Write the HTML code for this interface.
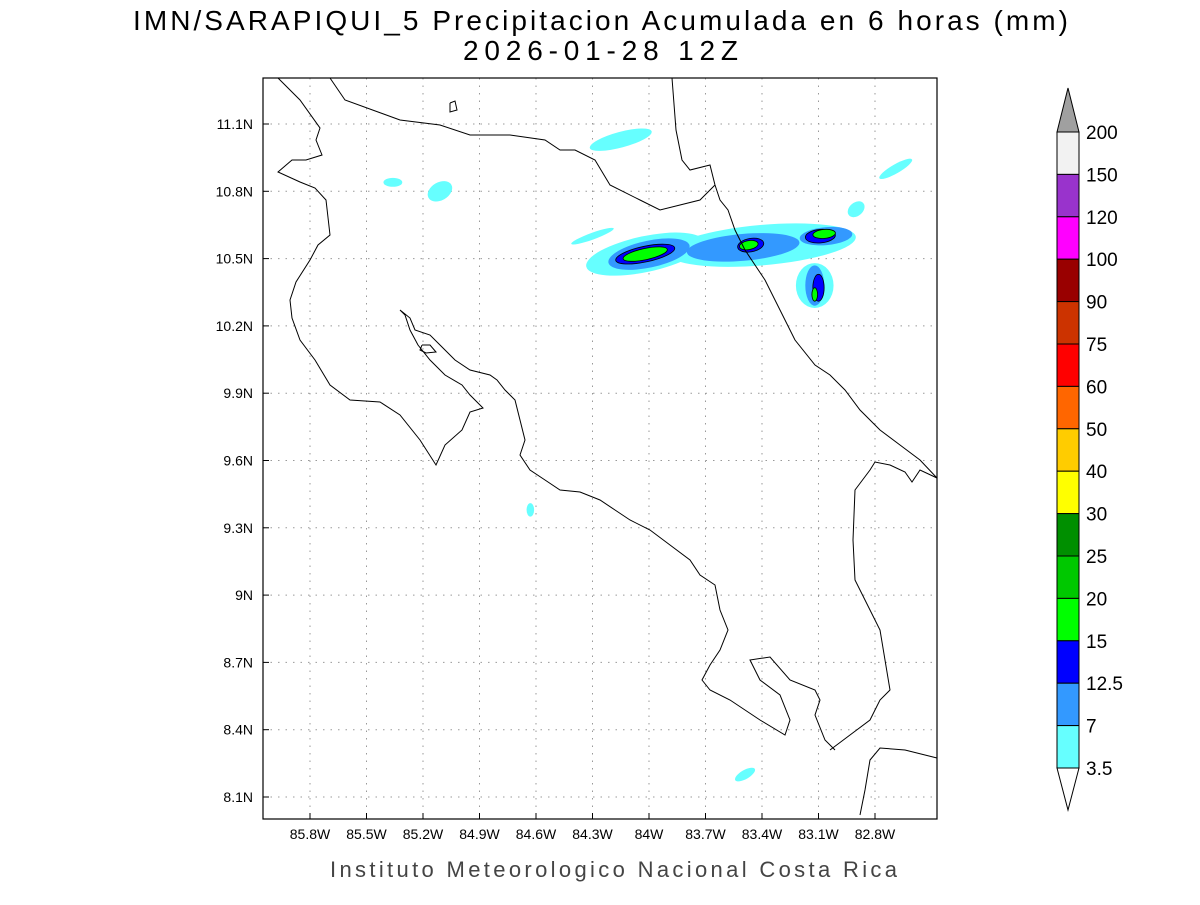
<!DOCTYPE html>
<html><head><meta charset="utf-8"><style>
body{margin:0;background:#fff;}
svg text{font-family:"Liberation Sans",sans-serif;}
</style></head><body>
<svg id="c" width="1200" height="900" xmlns="http://www.w3.org/2000/svg">
<text x="133" y="30" textLength="935" lengthAdjust="spacing" font-size="28">IMN/SARAPIQUI_5 Precipitacion Acumulada en 6 horas (mm)</text>
<text x="463" y="60" textLength="275" lengthAdjust="spacing" font-size="28">2026-01-28 12Z</text>
<text x="330" y="877" textLength="567" lengthAdjust="spacing" font-size="22" fill="#444">Instituto Meteorologico Nacional Costa Rica</text>
<g id="grid"></g><g id="rain"></g><g id="coast"></g><g id="axes"></g><g id="cbar"></g>
</svg>
<script>
const lonTicks=[-85.8,-85.5,-85.2,-84.9,-84.6,-84.3,-84.0,-83.7,-83.4,-83.1,-82.8];
const latTicks=[11.1,10.8,10.5,10.2,9.9,9.6,9.3,9.0,8.7,8.4,8.1];
const latLabels=["11.1N","10.8N","10.5N","10.2N","9.9N","9.6N","9.3N","9N","8.7N","8.4N","8.1N"];
const lonLabels=["85.8W","85.5W","85.2W","84.9W","84.6W","84.3W","84W","83.7W","83.4W","83.1W","82.8W"];
const cbLevels=["200","150","120","100","90","75","60","50","40","30","25","20","15","12.5","7","3.5"];
const cbColors=["#f2f2f2","#9933cc","#ff00ff","#990000","#cc3300","#ff0000","#ff6600","#ffcc00","#ffff00","#008f00","#00c800","#00ff00","#0000ff","#3399ff","#66ffff"];
const blobLon=[-84.02,-83.4,-83.12,-84.15,-85.36,-85.11,-84.63,-83.49,-82.69,-82.9,-84.3, -84.0,-83.5,-83.06,-83.12, -84.02,-83.46,-83.09,-83.1, -84.02,-83.47,-83.07,-83.12];
const blobLat=[10.52,10.56,10.38,11.03,10.84,10.8,9.38,8.2,10.9,10.72,10.6, 10.52,10.55,10.6,10.38, 10.52,10.56,10.6,10.37, 10.52,10.56,10.61,10.34];
const blobRx=[0.32,0.5,0.1,0.17,0.05,0.07,0.02,0.06,0.1,0.05,0.12, 0.22,0.3,0.14,0.05, 0.16,0.07,0.08,0.03, 0.12,0.05,0.06,0.015];
const blobRy=[0.08,0.09,0.1,0.035,0.02,0.04,0.03,0.02,0.02,0.03,0.015, 0.06,0.06,0.04,0.09, 0.035,0.03,0.03,0.06, 0.025,0.02,0.02,0.03];
const blobAng=[-12,-5,0,-15,0,-30,0,-30,-30,-40,-20, -12,-5,-5,0, -12,-10,-5,0, -12,-10,-5,0];
const blobLvl=[0,0,0,0,0,0,0,0,0,0,0, 1,1,1,1, 2,2,2,2, 3,3,3,3];
const lvlCol=["#66ffff","#3399ff","#0000ff","#00ff00"];
const X0=263,X1=937,Y0=78,Y1=819;
const xs=lon=>310+(lon+85.8)*188.33, ys=lat=>124+(11.1-lat)*224.33;
const NS="http://www.w3.org/2000/svg";
function mk(p,t,a){const e=document.createElementNS(NS,t);for(const k in a)e.setAttribute(k,a[k]);p.appendChild(e);return e;}
const G=document.getElementById('grid'),A=document.getElementById('axes'),R=document.getElementById('rain'),C=document.getElementById('coast'),CB=document.getElementById('cbar');
lonTicks.forEach((v,i)=>{const x=xs(v);
 const l=mk(G,'line',{x1:x,x2:x,y1:Y0,y2:Y1,stroke:'#999','stroke-dasharray':'1.5,6'});
 
 mk(A,'line',{x1:x,x2:x,y1:Y1,y2:Y1-6,stroke:'#000'});
 const t=mk(A,'text',{x:x,y:839,'text-anchor':'middle','font-size':14});t.textContent=lonLabels[i];
 });
latTicks.forEach((v,i)=>{const y=ys(v);
 const l=mk(G,'line',{x1:X0,x2:X1,y1:y,y2:y,stroke:'#999','stroke-dasharray':'1.5,6'});
 
 mk(A,'line',{x1:X0,x2:X0+6,y1:y,y2:y,stroke:'#000'});
 const t=mk(A,'text',{x:253,y:y+5,'text-anchor':'end','font-size':14});t.textContent=latLabels[i];
 });
const fr=mk(A,'rect',{x:X0,y:Y0,width:X1-X0,height:Y1-Y0,fill:'none',stroke:'#000','stroke-width':1.2});

blobLon.forEach((v,i)=>{const cx=xs(v),cy=ys(blobLat[i]);
 const e=mk(R,'ellipse',{cx:cx,cy:cy,rx:blobRx[i]*188.33,ry:blobRy[i]*224.33,fill:lvlCol[blobLvl[i]],transform:`rotate(${blobAng[i]} ${cx} ${cy})`,stroke:blobLvl[i]>1?'#000':'none','stroke-width':0.8});
 });
const coasts=[
"278,78 300,100 320,128 316,140 322,155 306,160 292,160 278,172 300,182 315,188 326,200 330,235 318,245 310,260 296,282 290,300 292,318 300,340 315,360 330,385 350,400 380,402 400,415 420,440 436,465 445,445 462,430 470,412 483,408 470,395 462,385 445,375 430,360 418,345 410,330 405,315 400,310 410,318 415,330 430,335 440,345 455,360 470,370 490,375 497,380 505,390 515,400 520,420 525,440 520,455 530,470 545,480 560,490 580,492 600,500 615,510 630,520 650,530 670,545 690,560 700,575 715,585 720,610 728,630 720,650 710,665 702,680 710,690 730,700 760,720 785,735 790,720 780,695 760,680 750,660 770,657 790,680 815,690 820,700 815,715 825,740 835,750",
"830,750 850,735 870,720 880,700 890,690 880,630 870,610 855,580 853,540 855,490 870,470 875,462 890,465 905,472 912,482 920,470 937,478",
"672,78 676,130 682,160 690,170 710,165 715,185 720,200 728,210 735,230 745,250 765,280 780,310 795,340 815,365 830,375 845,390 860,410 880,430 900,445 920,460 937,478",
"330,78 345,100 400,120 440,125 470,135 510,135 545,140 560,150 575,150 595,160 610,185 640,200 660,210 700,200 715,185",
"860,815 865,790 870,760 880,748 905,750 937,758",
"422,345 430,345 436,352 426,353 420,350 422,345",
"450,103 455,101 457,110 450,112 450,103"];
coasts.forEach(p=>{const e=mk(C,'polyline',{points:p,fill:'none',stroke:'#000','stroke-width':1});
 });
const cbX=1057,cbW=22,cbT=132,cbB=768,h=(cbB-cbT)/cbColors.length;
cbColors.forEach((c,i)=>{const r=mk(CB,'rect',{x:cbX,y:cbT+i*h,width:cbW,height:h,fill:c,stroke:'#000'});
 });
const tt=mk(CB,'polygon',{points:`${cbX},${cbT} ${cbX+cbW},${cbT} ${cbX+cbW/2},88`,fill:'#a0a0a0',stroke:'#000'});

const bt=mk(CB,'polygon',{points:`${cbX},${cbB} ${cbX+cbW},${cbB} ${cbX+cbW/2},810`,fill:'#fff',stroke:'#000'});

cbLevels.forEach((s,i)=>{const t=mk(CB,'text',{x:1086,y:cbT+i*h+7,'font-size':19});t.textContent=s;
 });
</script>
</body></html>
